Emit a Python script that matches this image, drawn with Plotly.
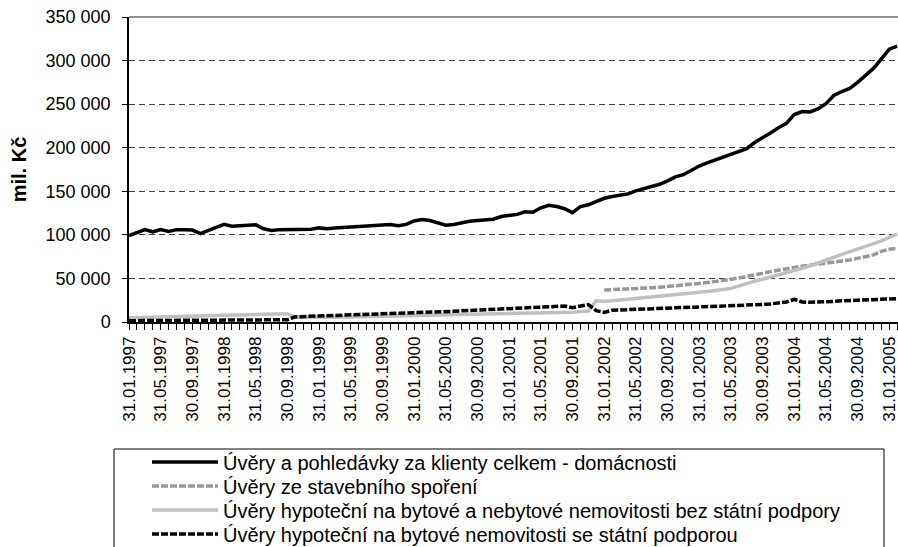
import plotly.graph_objects as go
import pandas as pd

# ---- data ----
months = [d.strftime("%d.%m.%Y") for d in pd.date_range("1997-01-31", periods=98, freq="ME")]
tick_labels = [m if i % 4 == 0 else "" for i, m in enumerate(months)]

total = [99000, 102000, 106000, 103500, 106000, 104000, 106000, 106000, 105500, 101500,
         105000, 109500, 112000, 110000, 110500, 111000, 111500, 107000, 105000, 106000,
         106000, 105500, 105500, 106500, 108000, 107000, 108000, 108500, 109500, 110500,
         111000, 111500, 112000, 112000, 110500, 112000, 116000, 117500, 116500, 113500,
         111000, 112000, 114000, 115500, 116500, 117500, 118000, 121000, 122000, 123500,
         126500, 126000, 131000, 134000, 132500, 130000, 125500, 132500, 134500, 138000,
         142000, 144000, 145500, 147000, 150500, 153000, 155500, 158000, 162000, 166500,
         169000, 174000, 179000, 182500, 186000, 189000, 192500, 195500, 199000, 206000,
         211000, 217000, 223000, 228000, 238000, 241500, 241000, 244500, 250500, 260000,
         264500, 268000, 275000, 282500, 291000, 302000, 313000, 316500]

spor = [None] * 60 + [36700, 37000, 37400, 37800, 38200, 38600, 39300, 39900, 40600, 41300,
                      42300, 43300, 44300, 45300, 46300, 47700, 49100, 50600, 52000, 53900,
                      55800, 57800, 59700, 61100, 62600, 64000, 65400, 66600, 67700, 68900,
                      70000, 71100, 73000, 75000, 77000, 81000, 83500, 84500]

bez = [5000, 5200, 5400, 5600, 5800, 6000, 6200, 6400, 6600, 6800,
       7000, 7200, 7400, 7600, 7800, 8000, 8300, 8600, 8900, 9200,
       9500, 5500, 5400, 5500, 5550, 5600, 5650, 5700, 5800, 5900,
       6000, 6100, 6300, 6500, 6800, 7000, 7300, 7500, 7800, 8000,
       8300, 8500, 8800, 9000, 9200, 9300, 9500, 9600, 9800, 9900,
       10000, 10200, 10300, 10500, 10600, 10700, 11200, 11900, 12500, 24500,
       23500, 24500, 25300, 26000, 27200, 28300, 29100, 29900, 30800, 31700,
       32500, 33400, 34200, 35100, 35900, 37200, 38600, 41500, 44300, 46700,
       49100, 51500, 53900, 56500, 59100, 61700, 64300, 67700, 71100, 74500,
       78000, 80800, 83700, 86500, 89400, 93000, 97000, 101000]

stat = [1500, 1600, 1700, 1700, 1800, 1800, 1900, 1900, 2000, 2000,
        2100, 2100, 2200, 2200, 2300, 2300, 2400, 2400, 2500, 2500,
        2600, 6000, 6300, 6500, 6800, 7000, 7300, 7600, 7700, 7900,
        8100, 8400, 8800, 9100, 9300, 9600, 10000, 10500, 10900, 11400,
        11800, 12300, 12800, 13200, 13700, 14200, 14600, 15100, 15500, 16000,
        16400, 16800, 17200, 17600, 18000, 18300, 16500, 18000, 20000, 13000,
        11000, 13500, 13800, 14100, 14400, 14800, 15100, 15400, 15800, 16100,
        16400, 16700, 17100, 17400, 17700, 18100, 18400, 18700, 19100, 19600,
        20100, 20700, 21400, 23000, 26000, 23000, 22600, 22700, 23200, 23700,
        24300, 24700, 25100, 25500, 25900, 26200, 26500, 26800]

names = ["Úvěry a pohledávky za klienty celkem - domácnosti",
         "Úvěry ze stavebního spoření",
         "Úvěry hypoteční na bytové a nebytové nemovitosti bez státní podpory",
         "Úvěry hypoteční na bytové nemovitosti se státní podporou"]

FONT = "Arial, Liberation Sans, sans-serif"

# plot area geometry (pixels)
L, R, T, B = 129, 898, 17, 322
PW, PH = R - L, B - T


def py(ypx):
    return (B - ypx) / PH


def px(xpx):
    return (xpx - L) / PW


fig = go.Figure()
fig.add_trace(go.Scatter(x=months, y=total, name=names[0], mode="lines",
                         line=dict(color="black", width=3.5), legend="legend"))
fig.add_trace(go.Scatter(x=months, y=spor, name=names[1], mode="lines",
                         line=dict(color="#999999", width=3.5, dash="7px,2px"),
                         legend="legend2"))
fig.add_trace(go.Scatter(x=months, y=bez, name=names[2], mode="lines",
                         line=dict(color="#c0c0c0", width=3.5), legend="legend3"))
fig.add_trace(go.Scatter(x=months, y=stat, name=names[3], mode="lines",
                         line=dict(color="black", width=3.5, dash="7px,2px"),
                         legend="legend4"))

row_y = [462, 486, 510, 534]
leg_common = dict(x=px(147), xanchor="left", yanchor="middle",
                  font=dict(family=FONT, size=20, color="black"),
                  itemwidth=66, bgcolor="rgba(0,0,0,0)", borderwidth=0)

fig.update_layout(
    width=898, height=547,
    margin=dict(l=L, r=898 - R, t=T, b=547 - B, autoexpand=False),
    plot_bgcolor="white", paper_bgcolor="white",
    separators=", ",
    font=dict(family=FONT, size=17, color="black"),
    showlegend=True,
    legend=dict(y=py(row_y[0]), **leg_common),
    legend2=dict(y=py(row_y[1]), **leg_common),
    legend3=dict(y=py(row_y[2]), **leg_common),
    legend4=dict(y=py(row_y[3]), **leg_common),
    shapes=[
        dict(type="line", xref="x domain", yref="y domain", x0=0, x1=1, y0=1, y1=1,
             line=dict(color="#909090", width=2)),
        dict(type="rect", xref="paper", yref="paper",
             x0=px(114), x1=px(884), y0=py(449), y1=py(600),
             line=dict(color="black", width=1), fillcolor="rgba(0,0,0,0)"),
    ],
)

fig.update_xaxes(
    type="category", categoryorder="array", categoryarray=months,
    range=[0, 97.1], automargin=False,
    tickmode="array", tickvals=months, ticktext=tick_labels,
    tickangle=-90, tickfont=dict(family=FONT, size=17, color="black"),
    ticks="outside", ticklen=6, tickcolor="black", tickwidth=1,
    showline=True, linecolor="black", linewidth=1.5,
    showgrid=False, zeroline=False,
)
fig.update_yaxes(
    range=[0, 350000], dtick=50000, tick0=0, tickformat=",d", automargin=False,
    tickfont=dict(family=FONT, size=18, color="black"),
    ticks="outside", ticklen=5, tickcolor="black", tickwidth=1,
    ticklabelstandoff=8,
    showline=True, linecolor="black", linewidth=1.5,
    showgrid=True, gridcolor="#404040", gridwidth=1, griddash="6px,4px",
    zeroline=False,
    title=dict(text="<b>mil. Kč</b>", font=dict(family=FONT, size=20, color="black"),
               standoff=14),
)

fig.write_html("out.html",
               config={"displayModeBar": False},
               post_script="document.body.style.margin='0px';"
                           "document.body.style.overflow='hidden';")
